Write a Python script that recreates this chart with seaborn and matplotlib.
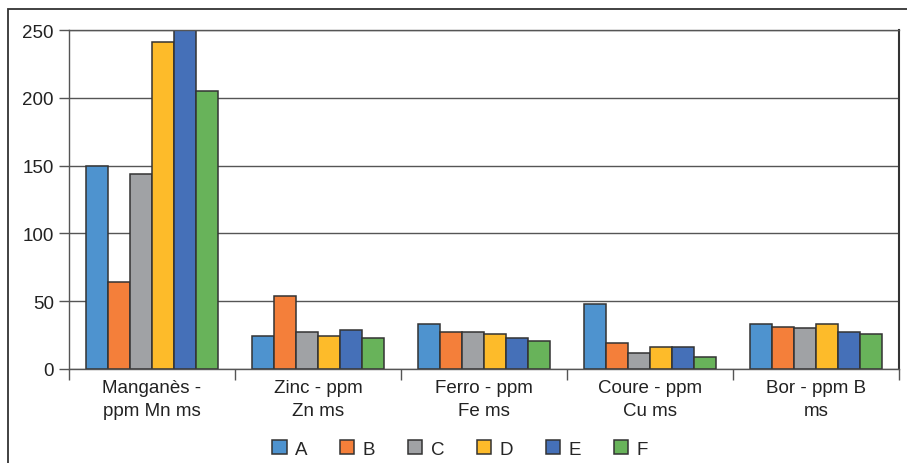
import matplotlib
matplotlib.use("Agg")
import matplotlib.pyplot as plt
from matplotlib.patches import Rectangle
from matplotlib.ticker import FixedLocator
import seaborn as sns
import pandas as pd

categories = ["Manganès -\nppm Mn ms", "Zinc - ppm\nZn ms", "Ferro - ppm\nFe ms",
              "Coure - ppm\nCu ms", "Bor - ppm B\nms"]
series = ["A", "B", "C", "D", "E", "F"]
values = {
    "A": [150, 24, 33, 48, 33],
    "B": [64, 54, 27, 19.5, 31],
    "C": [144, 27, 27, 12, 30],
    "D": [241, 24, 25.5, 16.5, 33],
    "E": [250, 28.5, 22.5, 16.5, 27],
    "F": [205, 22.5, 21, 9, 25.5],
}
colors = ["#4E93CF", "#F47F3A", "#A0A2A5", "#FDBB2A", "#4570B8", "#68B35A"]
yticks = [0, 50, 100, 150, 200, 250]

rows = [(c, s, values[s][i]) for s in series for i, c in enumerate(categories)]
df = pd.DataFrame(rows, columns=["cat", "serie", "val"])

sns.set_style("white")
plt.rcParams["font.family"] = ["Liberation Sans", "DejaVu Sans"]

fig = plt.figure(figsize=(9.07, 4.64), dpi=100)
ax = fig.add_axes([69 / 907, 1 - 370 / 464, 830 / 907, 339 / 464])

sns.barplot(data=df, x="cat", y="val", hue="serie", order=categories,
            hue_order=series, palette=colors, width=0.8, ax=ax,
            edgecolor="#333333", linewidth=1.1, saturation=1, legend=True)

ax.set_ylim(0, 250)
ax.set_xlim(-0.5, len(categories) - 0.5)
ax.set_yticks(yticks)
ax.set_yticklabels([str(t) for t in yticks], fontsize=13.5, color="#222222")
ax.yaxis.grid(True, color="#555555", linewidth=1.0)
ax.set_axisbelow(True)
ax.tick_params(axis="y", length=7, width=1, color="#555555", pad=4, left=True)
ax.tick_params(axis="x", which="major", length=0, labelsize=13.5, labelcolor="#222222", pad=7)
for lbl in ax.get_xticklabels():
    lbl.set_linespacing(1.45)
ax.xaxis.set_minor_locator(FixedLocator([i - 0.5 for i in range(len(categories) + 1)]))
ax.tick_params(axis="x", which="minor", length=8, width=1, color="#555555", bottom=True)
ax.set_xlabel("")
ax.set_ylabel("")
for s in ["left", "bottom", "right", "top"]:
    ax.spines[s].set_visible(True)
    ax.spines[s].set_color("#555555")
    ax.spines[s].set_linewidth(1.0)
ax.spines["right"].set_color("#333333")
ax.spines["right"].set_linewidth(1.5)

handles, labels = ax.get_legend_handles_labels()
ax.legend(handles, labels, loc="center", bbox_to_anchor=(0.471, (450 - 370) / -339),
          ncol=6, frameon=False, fontsize=13.5, handlelength=0.75, handleheight=0.75,
          handletextpad=0.45, columnspacing=1.75, borderaxespad=0)

# outer frame around the figure
fig.patches.append(Rectangle((8 / 907, -0.05), 1.0, 1 - 10 / 464 + 0.05,
                             transform=fig.transFigure, fill=False,
                             edgecolor="#333333", linewidth=1.3))

fig.savefig("out.png", dpi=100)
